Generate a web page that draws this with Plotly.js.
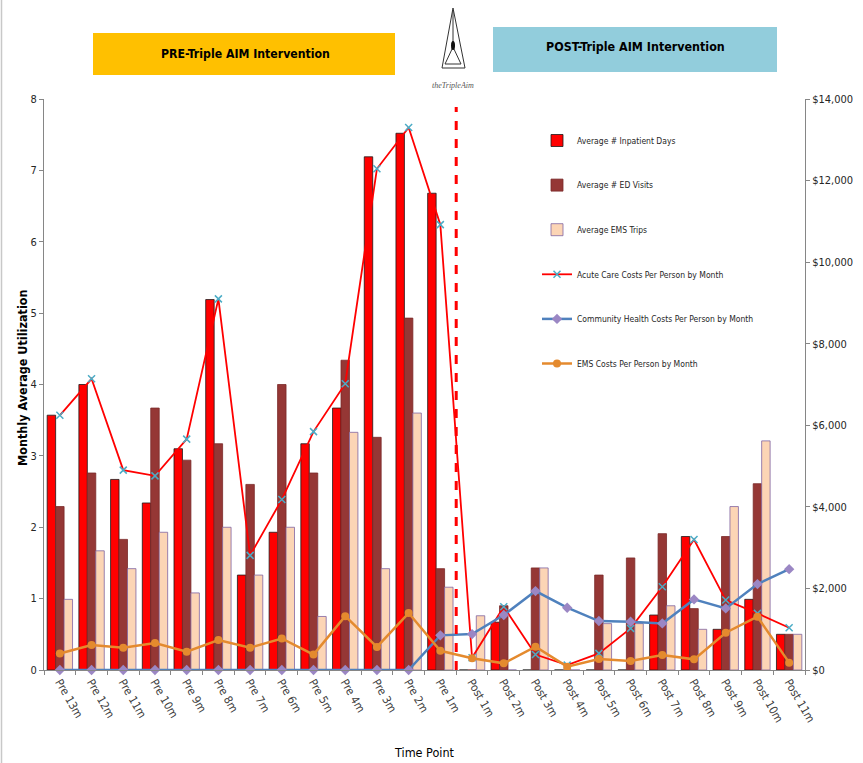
<!DOCTYPE html>
<html>
<head>
<meta charset="utf-8">
<script src="https://cdn.plot.ly/plotly-3.0.1.min.js"></script>
<style>html,body{margin:0;padding:0;background:#fff;}#chart{width:863px;height:763px;}</style>
</head>
<body>
<div id="chart"></div>
<script>
const categories = ['Pre 13m','Pre 12m','Pre 11m','Pre 10m','Pre 9m','Pre 8m','Pre 7m','Pre 6m','Pre 5m','Pre 4m','Pre 3m','Pre 2m','Pre 1m','Post 1m','Post 2m','Post 3m','Post 4m','Post 5m','Post 6m','Post 7m','Post 8m','Post 9m','Post 10m','Post 11m'];
const inpatientDays = [3.57,4.00,2.67,2.34,3.10,5.19,1.33,1.93,3.17,3.67,7.19,7.52,6.68,0,0.67,0,0,0,0,0.77,1.87,0.57,0.99,0.50];
const edVisits = [2.29,2.76,1.83,3.67,2.94,3.17,2.60,4.00,2.76,4.34,3.26,4.93,1.42,0,0.90,1.43,0,1.33,1.57,1.91,0.86,1.87,2.61,0.50];
const emsTrips = [0.99,1.67,1.42,1.93,1.08,2.00,1.33,2.00,0.75,3.33,1.42,3.60,1.16,0.76,0,1.43,0,0.65,0.65,0.90,0.57,2.29,3.21,0.50];
const acuteCosts = [6245,7140,4900,4760,5660,9100,2810,4180,5845,7020,12290,13300,10920,300,1550,380,120,408,1020,2041,3200,1714,1388,1037];
const communityCosts = [0,0,0,0,0,0,0,0,0,0,0,0,849,880,1347,1935,1527,1200,1184,1143,1731,1510,2106,2473];
const emsCosts = [405,613,547,660,450,735,547,773,377,1320,566,1396,471,290,163,571,82,269,220,367,261,914,1306,180];
const seriesNames = ['Average # Inpatient Days','Average # ED Visits','Average EMS Trips','Acute Care Costs Per Person by Month','Community Health Costs Per Person by Month','EMS Costs Per Person by Month'];
const bannerTexts = ['PRE-Triple AIM Intervention','POST-Triple AIM Intervention'];
const logoText = 'theTripleAim';
const xTitle = 'Time Point';
const yTitle = 'Monthly Average Utilization';

const FONT = 'Liberation Sans Narrow, DejaVu Sans Condensed, Arial Narrow, sans-serif';
const L = 44, R = 805, T = 99, B = 670;
const px = v => (v - L) / (R - L);
const py = v => (B - v) / (B - T);

const traces = [
  {type:'bar', name:seriesNames[0], x:categories, y:inpatientDays, legendgroup:'g1',
   marker:{color:'#FF0000', line:{color:'#1a1a1a', width:0.8}}},
  {type:'bar', name:seriesNames[1], x:categories, y:edVisits, legendgroup:'g2',
   marker:{color:'#953735', line:{color:'#7a2a28', width:0.8}}},
  {type:'bar', name:seriesNames[2], x:categories, y:emsTrips, legendgroup:'g3',
   marker:{color:'#FCD5B5', line:{color:'#8064A2', width:0.8}}},
  {type:'scatter', mode:'lines+markers', name:seriesNames[3], x:categories, y:acuteCosts, yaxis:'y2', legendgroup:'g4', cliponaxis:false,
   line:{color:'#FF0000', width:1.8},
   marker:{symbol:'x-thin', size:7, line:{color:'#4BACC6', width:1.5}}},
  {type:'scatter', mode:'lines+markers', name:seriesNames[4], x:categories, y:communityCosts, yaxis:'y2', legendgroup:'g5', cliponaxis:false,
   line:{color:'#4F81BD', width:2.5},
   marker:{symbol:'diamond', size:8, color:'#9B87C4'}},
  {type:'scatter', mode:'lines+markers', name:seriesNames[5], x:categories, y:emsCosts, yaxis:'y2', legendgroup:'g6', cliponaxis:false,
   line:{color:'#E48A2E', width:2.5},
   marker:{symbol:'circle', size:8, color:'#E48A2E'}}
];

const shapes = [
  {type:'line', xref:'paper', yref:'paper', x0:px(1.5), x1:px(1.5), y0:py(0), y1:py(763), line:{color:'#c8c8c8', width:1.5}},
  {type:'line', xref:'x', yref:'paper', x0:12.5, x1:12.5, y0:0, y1:py(107), line:{color:'#FF0000', width:3, dash:'dash'}},
  {type:'rect', xref:'paper', yref:'paper', x0:px(93), x1:px(395), y0:py(75), y1:py(33), fillcolor:'#FFC000', line:{width:0}},
  {type:'rect', xref:'paper', yref:'paper', x0:px(493), x1:px(777), y0:py(72), y1:py(27), fillcolor:'#92CDDC', line:{width:0}},
  {type:'path', xref:'paper', yref:'paper', path:`M ${px(453)} ${py(8)} L ${px(442)} ${py(68)} L ${px(465)} ${py(68)} Z`, line:{color:'#333', width:1}},
  {type:'path', xref:'paper', yref:'paper', path:`M ${px(453)} ${py(10)} L ${px(453)} ${py(47)} M ${px(453)} ${py(47)} L ${px(445)} ${py(64)} L ${px(461)} ${py(64)} Z`, line:{color:'#333', width:1}},
  {type:'circle', xref:'paper', yref:'paper', x0:px(451), x1:px(455), y0:py(50), y1:py(41), fillcolor:'#111', line:{width:0}}
];

const annotations = [
  {xref:'paper', yref:'paper', x:px(245), y:py(54), text:'<b>'+bannerTexts[0]+'</b>', showarrow:false, font:{family:FONT, size:12.2, color:'#000'}, xanchor:'center', yanchor:'middle'},
  {xref:'paper', yref:'paper', x:px(635), y:py(47), text:'<b>'+bannerTexts[1]+'</b>', showarrow:false, font:{family:FONT, size:12.4, color:'#000'}, xanchor:'center', yanchor:'middle'},
  {xref:'paper', yref:'paper', x:px(453), y:py(85), text:'<i>'+logoText+'</i>', showarrow:false, font:{family:'Liberation Serif, serif', size:8, color:'#555'}, xanchor:'center', yanchor:'middle'},
  {xref:'paper', yref:'paper', x:px(22), y:py(378), text:'<b>'+yTitle+'</b>', textangle:-90, showarrow:false, font:{family:FONT, size:12.5, color:'#000'}, xanchor:'center', yanchor:'middle'}
];

const layout = {
  width:863, height:763,
  margin:{l:L, r:863-R, t:T, b:763-B, pad:0},
  paper_bgcolor:'#fff', plot_bgcolor:'#fff',
  font:{family:FONT, size:11, color:'#262626'},
  barmode:'group', bargap:0.2, bargroupgap:0,
  showlegend:true,
  legend:{x:px(537), y:py(126), xanchor:'left', yanchor:'top', traceorder:'grouped', tracegroupgap:25.6,
          font:{family:FONT, size:8.5, color:'#262626'}, bgcolor:'rgba(0,0,0,0)', itemwidth:30},
  xaxis:{type:'category', range:[-0.5, 23.5], automargin:false, tickangle:60, ticks:'outside', tickson:'boundaries', ticklen:4, tickcolor:'#868686',
         showline:true, linecolor:'#868686', linewidth:1, showgrid:false, zeroline:false,
         tickfont:{family:FONT, size:11.5, color:'#404040'},
         title:{text:xTitle, font:{family:FONT, size:12.5, color:'#000'}, standoff:24}},
  yaxis:{range:[0,8], dtick:1, automargin:false, ticks:'outside', ticklen:4, tickcolor:'#868686',
         showline:true, linecolor:'#868686', linewidth:1, showgrid:false, zeroline:false,
         tickfont:{family:FONT, size:11, color:'#262626'}},
  yaxis2:{range:[0,14000], dtick:2000, overlaying:'y', side:'right', automargin:false, ticks:'outside', ticklen:4, tickcolor:'#868686',
          showline:true, linecolor:'#868686', linewidth:1, showgrid:false, zeroline:false,
          tickprefix:'$', tickformat:',d', tickfont:{family:FONT, size:11, color:'#262626'}},
  shapes:shapes,
  annotations:annotations
};

Plotly.newPlot('chart', traces, layout, {displayModeBar:false, staticPlot:true});
</script>
</body>
</html>
